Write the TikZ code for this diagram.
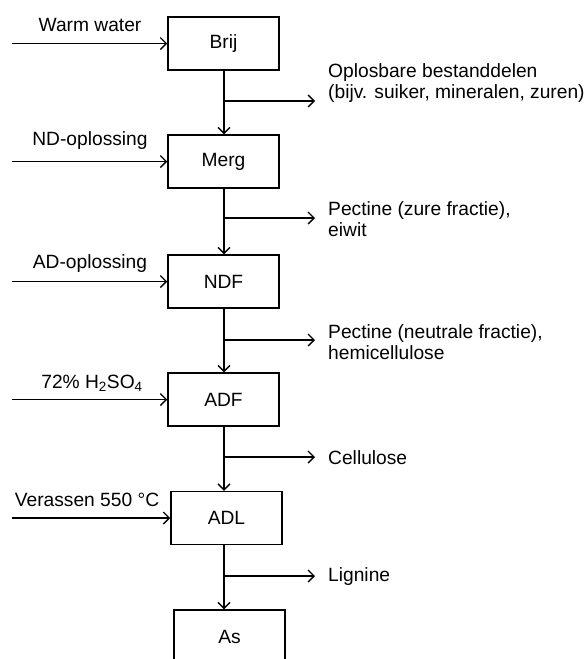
\documentclass[tikz,border=0pt]{standalone}
\usepackage{fontspec}
\setmainfont{Liberation Sans}
\usetikzlibrary{arrows.meta}
\begin{document}
\begin{tikzpicture}[x=1pt,y=-1pt,
  every node/.style={font=\fontsize{19.2}{21.5}\selectfont, inner sep=0pt},
  stagebox/.style={draw, line width=1.5pt, minimum width=111pt, minimum height=53pt},
  arr/.style={line width=1.5pt, -{Straight Barb[length=6pt,width=12pt,line width=1.4pt]}},
  outlabel/.style={anchor=west, align=left},
  inlabel/.style={anchor=center}]
\useasboundingbox (0,0) rectangle (587,659);
\clip (0,0) rectangle (587,659);
% boxes
\node[stagebox] (brij) at (223.5,43.5) {Brij};
\node[stagebox] (merg) at (223.5,161.5) {Merg};
\node[stagebox] (ndf)  at (223.5,281.5) {NDF};
\node[stagebox] (adf)  at (223.5,399.5) {ADF};
\node[stagebox] (adl)  at (226.5,518) {ADL};
\node[stagebox] (as)   at (229.5,636.5) {As};
% input starts
\coordinate (i1) at (12,43.5);
\coordinate (i2) at (12,161.5);
\coordinate (i3) at (12,281.5);
\coordinate (i4) at (12,399.5);
\coordinate (i5) at (12,518);
\draw[arr] (i1) -- (brij.west);
\draw[arr] (i2) -- (merg.west);
\draw[arr] (i3) -- (ndf.west);
\draw[arr] (i4) -- (adf.west);
\draw[arr] (i5) -- (adl.west);
\node[inlabel] (l1) at (90,25) {Warm water};
\node[inlabel] (l2) at (90,141) {ND-oplossing};
\node[inlabel] (l3) at (90,264) {AD-oplossing};
\node[inlabel] (l4) at (92,383) {72\% H\textsubscript{2}SO\textsubscript{4}};
\node[inlabel] (l5) at (87,500) {Verassen 550 °C};
% vertical connectors
\coordinate (b1) at (224,101);
\coordinate (b2) at (224,218);
\coordinate (b3) at (224,340);
\coordinate (b4) at (224,457);
\coordinate (b5) at (224,576);
\draw[arr] (brij.south -| b1) -- (merg.north -| b1);
\draw[arr] (merg.south -| b2) -- (ndf.north -| b2);
\draw[arr] (ndf.south -| b3) -- (adf.north -| b3);
\draw[arr] (adf.south -| b4) -- (adl.north -| b4);
\draw[arr] (adl.south -| b5) -- (as.north -| b5);
% branches
\coordinate (e1) at (315,101);
\coordinate (e2) at (315,218);
\coordinate (e3) at (315,340);
\coordinate (e4) at (315,457);
\coordinate (e5) at (315,576);
\draw[arr] (b1) -- (e1);
\draw[arr] (b2) -- (e2);
\draw[arr] (b3) -- (e3);
\draw[arr] (b4) -- (e4);
\draw[arr] (b5) -- (e5);
\node[outlabel] (o1) at (328,83) {Oplosbare bestanddelen\\(bijv. suiker, mineralen, zuren)};
\node[outlabel] (o2) at (328,219) {Pectine (zure fractie),\\eiwit};
\node[outlabel] (o3) at (328,342) {Pectine (neutrale fractie),\\hemicellulose};
\node[outlabel] (o4) at (328,458) {Cellulose};
\node[outlabel] (o5) at (328,577) {Lignine};
\end{tikzpicture}
\end{document}
